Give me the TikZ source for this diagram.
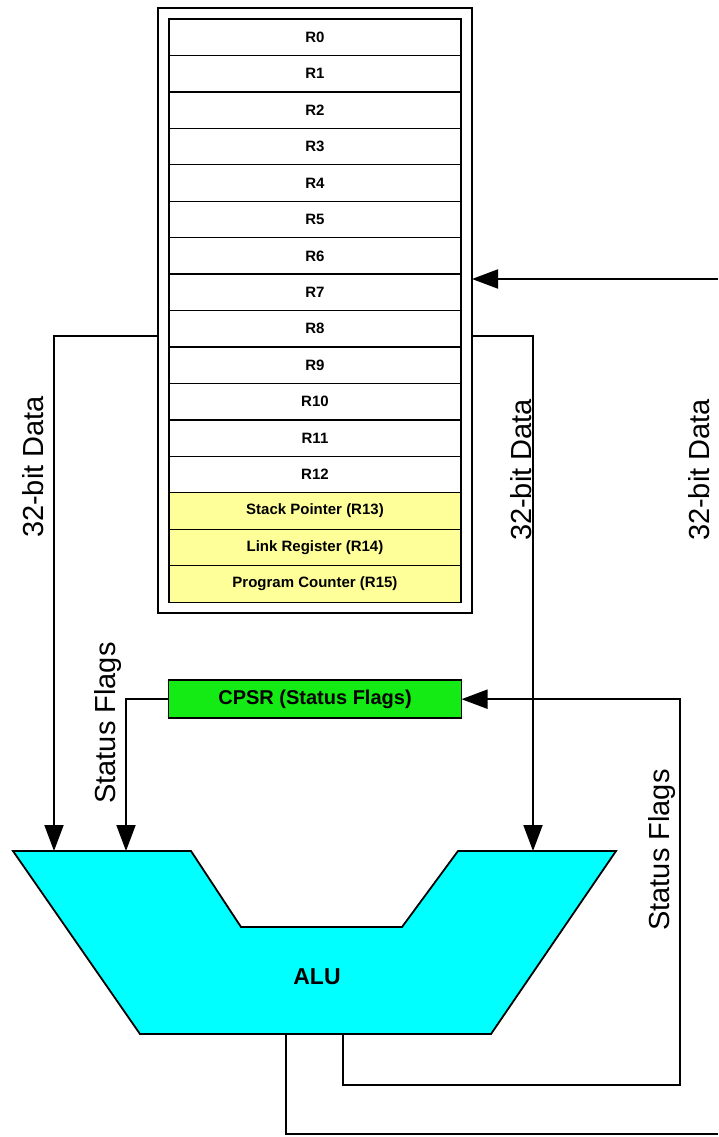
\documentclass[tikz,border=0pt]{standalone}
\usepackage{fontspec}
\setmainfont{Liberation Sans}
\usepackage{xcolor}
\usepackage{tikz}
\usetikzlibrary{arrows.meta,positioning,fit}

\definecolor{regyellow}{RGB}{255,255,153}
\definecolor{flaggreen}{RGB}{20,235,20}
\definecolor{alucyan}{RGB}{0,255,255}

\begin{document}
\begin{tikzpicture}[
    x=1pt, y=1pt,
    node distance=0pt,
    every node/.style={font=\fontsize{29}{29}\selectfont},
    register/.style={
        rectangle,
        draw,
        line width=1.3pt,
        outer sep=0pt,
        inner sep=0pt,
        minimum width=292pt,
        minimum height=36.45pt,
        font=\bfseries\fontsize{15}{15}\selectfont
    },
    special/.style={
        register,
        fill=regyellow
    },
    regframe/.style={
        rectangle,
        draw,
        line width=2.6pt,
        outer sep=0pt,
        inner sep=11pt
    },
    flagreg/.style={
        rectangle,
        draw,
        fill=flaggreen,
        line width=1.8pt,
        outer sep=0pt,
        minimum width=293pt,
        minimum height=38pt,
        font=\bfseries\fontsize{20}{20}\selectfont
    },
    alubody/.style={
        draw,
        fill=alucyan,
        line width=1.8pt,
        line join=miter
    },
    buslabel/.style={
        rotate=90
    },
    line/.style={
        line width=2pt
    },
    arrow/.style={
        -{Triangle[length=26pt,width=19pt]},
        line width=2pt
    }
]

\useasboundingbox (0,0) rectangle (718,-1137);

% =========================================================
% REGISTER FILE
% =========================================================

\node[register] (r0) at (315,-37.2) {R0};
\node[register, below=of r0] (r1) {R1};
\node[register, below=of r1] (r2) {R2};
\node[register, below=of r2] (r3) {R3};
\node[register, below=of r3] (r4) {R4};
\node[register, below=of r4] (r5) {R5};
\node[register, below=of r5] (r6) {R6};
\node[register, below=of r6] (r7) {R7};
\node[register, below=of r7] (r8) {R8};
\node[register, below=of r8] (r9) {R9};
\node[register, below=of r9] (r10) {R10};
\node[register, below=of r10] (r11) {R11};
\node[register, below=of r11] (r12) {R12};
\node[special, below=of r12] (sp) {Stack Pointer (R13)};
\node[special, below=of sp] (lr) {Link Register (R14)};
\node[special, below=of lr] (pc) {Program Counter (R15)};

\node[regframe, fit=(r0)(pc)] (regfile) {};


% =========================================================
% CPSR AND ALU
% =========================================================

\node[flagreg, below=67pt of regfile] (cpsr) {CPSR (Status Flags)};

\coordinate (alutopleft) at (13,-851);
\coordinate (alutopright) at (616,-851);

\draw[alubody]
    (alutopleft) -- (191,-851) -- (241,-927) -- (402,-927)
    -- (458,-851) -- (alutopright) -- (491,-1034) -- (140,-1034)
    -- cycle;

\node[font=\bfseries\fontsize{23}{23}\selectfont] (alu) at (317,-977) {ALU};

% ALU ports
\coordinate (aluinA) at (54,-851);
\coordinate (aluinB) at (126,-851);
\coordinate (aluinC) at (533,-851);
\coordinate (aluoutA) at (286,-1034);
\coordinate (aluoutB) at (343,-1034);

% free ends at the page edge
\coordinate (datain) at (718,-279);
\coordinate (dataout) at (718,-1134);
\coordinate (flagcorner) at (680,-1085);


% =========================================================
% DATA BUSES
% =========================================================

\draw[arrow] (datain) -- (datain -| regfile.east);

\draw[arrow]
    ([yshift=-25.4pt]regfile.west) -| (aluinA);

\draw[arrow]
    ([yshift=-25.4pt]regfile.east) -| (aluinC);

\draw[line] (aluoutA) |- (dataout);


% =========================================================
% STATUS FLAGS
% =========================================================

\draw[arrow] (cpsr.west) -| (aluinB);

\draw[arrow]
    (aluoutB) |- (flagcorner) |- (cpsr.east);


% =========================================================
% LABELS
% =========================================================

\node[buslabel] (datalabelL) at (33,-467) {32-bit Data};
\node[buslabel] (datalabelM) at (521,-470) {32-bit Data};
\node[buslabel] (datalabelR) at (699,-470) {32-bit Data};
\node[buslabel] (flaglabelL) at (108,-723) {Status Flags};
\node[buslabel] (flaglabelR) at (662,-850) {Status Flags};

\end{tikzpicture}
\end{document}
